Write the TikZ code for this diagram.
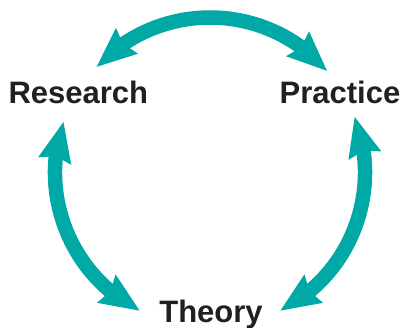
\documentclass[tikz,border=0pt]{standalone}
\usepackage{fontspec}
\setmainfont{Liberation Sans}
\usetikzlibrary{arrows.meta,bending}
\definecolor{tealarrow}{RGB}{0,169,166}
\definecolor{ink}{RGB}{35,31,32}
\tikzset{headtip/.tip={Stealth[length=40pt,width=34pt,inset=5pt,line width=0pt,flex]}}
\begin{document}
\begin{tikzpicture}[x=1pt,y=1pt,
  lbl/.style={font=\fontsize{31}{31}\selectfont\bfseries, text=ink, anchor=base, inner sep=0pt},
  cyc/.style={draw=tealarrow, line width=14.5pt, {headtip}-{headtip}}]
\useasboundingbox (0,0) rectangle (402,-327);
\coordinate (C) at (210,-172.5);
\node[lbl] (research) at (78.3,-103) {Research};
\node[lbl] (practice) at (340,-103) {Practice};
\node[lbl] (theory) at (211,-322) {Theory};
\path (C) ++(137:155) coordinate (a1);
\path (C) ++(161:155) coordinate (b1);
\path (C) ++(21:155) coordinate (c1);
\draw[cyc] (a1) arc[start angle=137, end angle=41, radius=155];
\draw[cyc] (b1) arc[start angle=161, end angle=243, radius=155];
\draw[cyc] (c1) arc[start angle=21, end angle=-63, radius=155];
\end{tikzpicture}
\end{document}
